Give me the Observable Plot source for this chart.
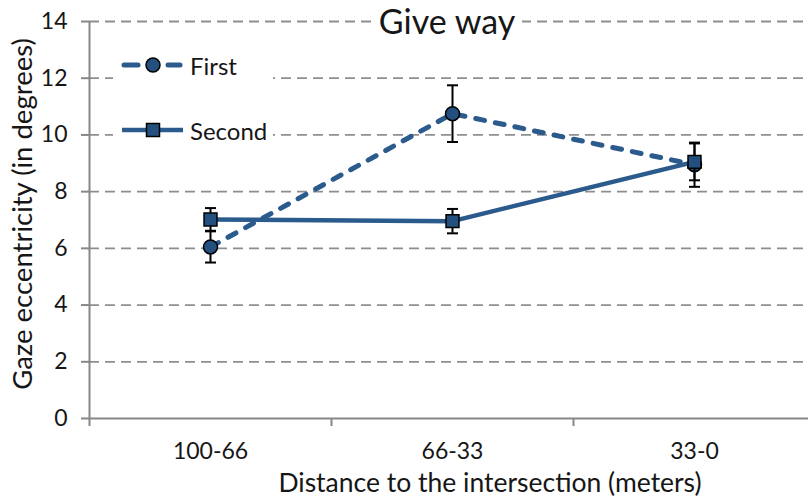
<!DOCTYPE html>
<html><head><meta charset="utf-8">
<script src="https://cdn.jsdelivr.net/npm/d3@7"></script>
<script src="https://cdn.jsdelivr.net/npm/@observablehq/plot@0.6"></script>
<style>
body{margin:0;background:#fff;font-family:Lato,"Open Sans",sans-serif;color:#161616}
#wrap{position:relative;width:808px;height:499px;overflow:hidden;background:#fff}
#wrap svg.plot{position:absolute;left:0;top:0}
.ov{position:absolute;white-space:nowrap;line-height:1}
#title{left:372px;top:2px;width:150px;height:40px;background:#fff;font-size:34px;text-align:center;line-height:38px}
#xlabel{left:0;width:980px;top:469px;font-size:26.5px;text-align:center}
#ylabel{left:22px;top:214px;font-size:27.5px;transform:translate(-50%,-50%) rotate(-90deg)}
#legend{left:113px;top:40px;width:160px;height:112px;background:#fff}
</style></head><body><div id="wrap"></div>
<script>
const categories = ["100-66", "66-33", "33-0"];
const seriesNames = ["First", "Second"];
const firstMean = [6.05, 10.75, 8.95];
const firstErr = [0.55, 1.0, 0.78];
const secondMean = [7.02, 6.96, 9.05];
const secondErr = [0.40, 0.43, 0.65];
const yTicks = [0, 2, 4, 6, 8, 10, 12, 14];
const titleText = "Give way";
const xLabelText = "Distance to the intersection (meters)";
const yLabelText = "Gaze eccentricity (in degrees)";

const lineColor = "#2b5a8d";
const markFill = "#23507f";
const axisColor = "#878787";
const gridColor = "#8e8e8e";

const rows = (mean, err) => categories.map((c, i) => ({cat: c, xi: i + 0.5, v: mean[i], lo: mean[i] - err[i], hi: mean[i] + err[i]}));
const first = rows(firstMean, firstErr);
const second = rows(secondMean, secondErr);

const capSymbol = {draw(ctx, size) { const r = Math.sqrt(size / Math.PI); ctx.moveTo(-r, 0); ctx.lineTo(r, 0); }};

const errMarks = (data) => [
  Plot.ruleX(data, {x: "xi", y1: "lo", y2: "hi", stroke: "#000", strokeWidth: 2}),
  Plot.dot(data, {x: "xi", y: "lo", symbol: capSymbol, r: 5.5, stroke: "#000", strokeWidth: 2}),
  Plot.dot(data, {x: "xi", y: "hi", symbol: capSymbol, r: 5.5, stroke: "#000", strokeWidth: 2})
];

const chart = Plot.plot({
  width: 808, height: 499,
  marginLeft: 89, marginRight: 0, marginTop: 21, marginBottom: 81,
  x: {domain: [0, 3], range: [89, 815]},
  y: {domain: [0, 14], range: [418, 21]},
  style: {fontFamily: "Lato, 'Open Sans', sans-serif", background: "transparent", color: "#161616"},
  marks: [
    Plot.ruleY(yTicks.filter(t => t > 0), {stroke: gridColor, strokeWidth: 1.8, strokeDasharray: "10,6"}),
    Plot.ruleY([0], {stroke: axisColor, strokeWidth: 2}),
    Plot.ruleX([0], {stroke: axisColor, strokeWidth: 2}),
    Plot.axisY({ticks: yTicks, tickSize: 8, tickPadding: 14, fontSize: 23, stroke: axisColor, strokeWidth: 2, fill: "#161616", label: null}),
    Plot.axisX({ticks: [0, 1, 2, 3], tickSize: 8, tickFormat: () => "", stroke: axisColor, strokeWidth: 2, label: null}),
    Plot.axisX({ticks: categories.map((c, i) => i + 0.5), tickFormat: v => categories[Math.floor(v)], tickSize: 0, tickPadding: 24, fontSize: 23, fill: "#161616", label: null}),
    Plot.line(first, {x: "xi", y: "v", stroke: lineColor, strokeWidth: 5, strokeDasharray: "9,11", strokeLinecap: "round"}),
    ...errMarks(first),
    Plot.dot(first, {x: "xi", y: "v", r: 7, fill: markFill, stroke: "#000", strokeWidth: 1.5}),
    Plot.line(second, {x: "xi", y: "v", stroke: lineColor, strokeWidth: 4.5}),
    ...errMarks(second),
    Plot.dot(second, {x: "xi", y: "v", symbol: "square", r: 7.3, fill: markFill, stroke: "#000", strokeWidth: 1.5})
  ]
});
chart.classList.add("plot");
const wrap = document.getElementById("wrap");
wrap.appendChild(chart);

function addDiv(id, text) { const d = document.createElement("div"); d.id = id; d.className = "ov"; if (text) d.textContent = text; wrap.appendChild(d); return d; }
addDiv("title", titleText);
addDiv("xlabel", xLabelText);
addDiv("ylabel", yLabelText);
const leg = addDiv("legend");
const ns = "http://www.w3.org/2000/svg";
const lsvg = document.createElementNS(ns, "svg");
lsvg.setAttribute("width", 160); lsvg.setAttribute("height", 112);
function el(tag, attrs, text) { const e = document.createElementNS(ns, tag); for (const k in attrs) e.setAttribute(k, attrs[k]); if (text) e.textContent = text; lsvg.appendChild(e); return e; }
// First (dashed, circle)
el("line", {x1: 11, x2: 25, y1: 25, y2: 25, stroke: lineColor, "stroke-width": 5, "stroke-linecap": "round"});
el("line", {x1: 55, x2: 67, y1: 25, y2: 25, stroke: lineColor, "stroke-width": 5, "stroke-linecap": "round"});
el("circle", {cx: 40, cy: 25, r: 7, fill: markFill, stroke: "#000", "stroke-width": 1.5});
el("text", {x: 77, y: 25, "font-size": 24, "dominant-baseline": "central", fill: "#161616"}, seriesNames[0]);
// Second (solid, square)
el("line", {x1: 9, x2: 70, y1: 90, y2: 90, stroke: lineColor, "stroke-width": 4.5});
el("rect", {x: 33.5, y: 83.5, width: 13, height: 13, fill: markFill, stroke: "#000", "stroke-width": 1.5});
el("text", {x: 77, y: 90, "font-size": 24, "dominant-baseline": "central", fill: "#161616"}, seriesNames[1]);
leg.appendChild(lsvg);
</script></body></html>
